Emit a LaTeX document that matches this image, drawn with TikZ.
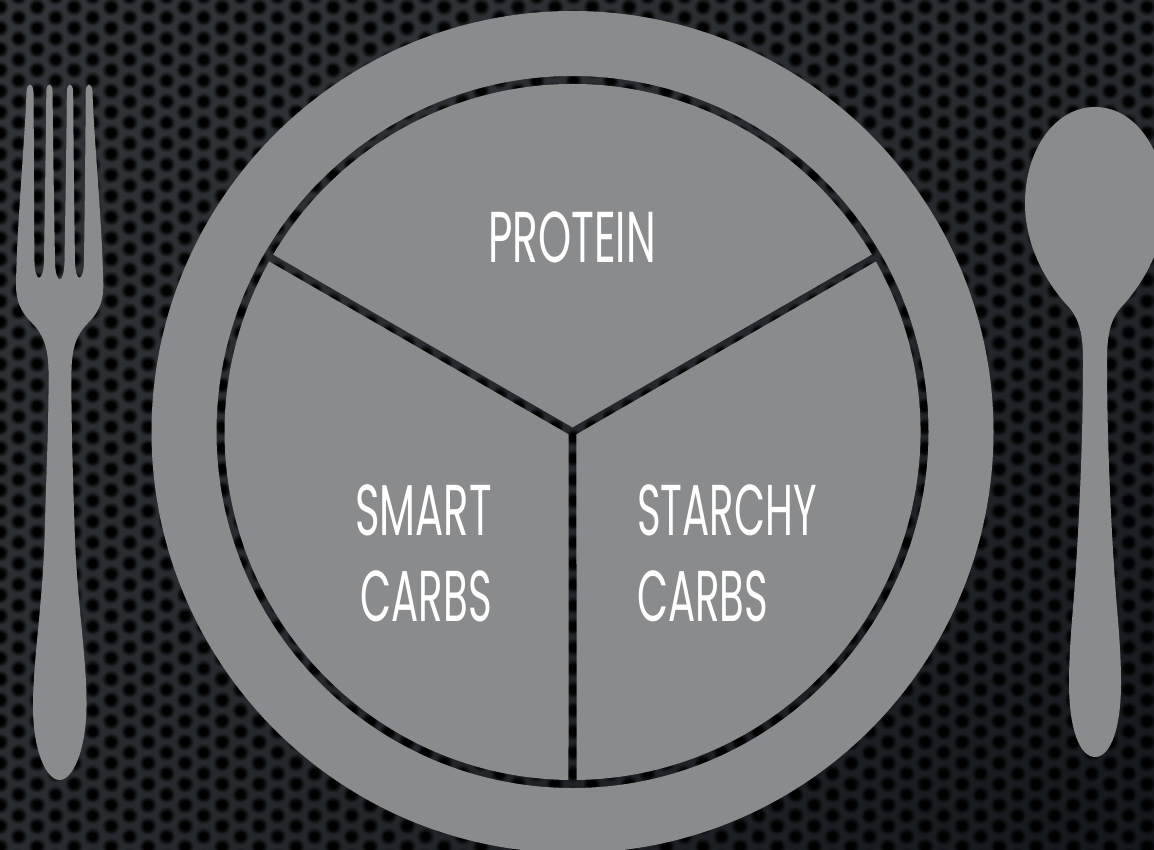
\documentclass[tikz,border=0pt]{standalone}
\usepackage{fontspec}
\usepackage{graphicx}
\usetikzlibrary{calc,shadings,patterns}
\newfontfamily\labelfont[FakeStretch=0.58]{Poppins}
\definecolor{platecol}{HTML}{8A8B8D}
\definecolor{bgA}{HTML}{303438}
\definecolor{bgB}{HTML}{282C30}
\definecolor{bgC}{HTML}{14181D}
\newcommand{\mkholes}[2]{%
  \pgfdeclarepatternformonly{#1}{\pgfpointorigin}{\pgfqpoint{37.3pt}{21.34pt}}{\pgfqpoint{37.3pt}{21.34pt}}{%
    \foreach \ii in {-1,0,1}{\foreach \jj in {-1,0,1}{%
      \pgfpathcircle{\pgfpoint{20pt+37.3pt*\ii}{14.74pt+21.34pt*\jj}}{#2}%
      \pgfpathcircle{\pgfpoint{38.65pt+37.3pt*\ii}{25.41pt+21.34pt*\jj}}{#2}%
    }}%
    \pgfusepath{fill}%
  }%
}
\mkholes{holesA}{9pt}
\mkholes{holesB}{8pt}
\mkholes{holesC}{7pt}
\mkholes{holesD}{6pt}
\mkholes{holesE}{5pt}
\mkholes{holesF}{4pt}
\tikzset{
  plate/.style={fill=platecol},
  perf/.style={pattern=#1,pattern color=black},
  foodlabel/.style={text=white,inner sep=0pt,font=\labelfont\fontsize{72}{86}\selectfont}
}
\begin{document}
\begin{tikzpicture}[x=1pt,y=1pt,yscale=-1]
\useasboundingbox (0,0) rectangle (1154,850);
\clip (0,0) rectangle (1154,850);
% perforated background
\shade[upper left=bgA,upper right=bgB,lower left=bgB,lower right=bgC] (0,0) rectangle (1154,850);
\path[perf=holesA,fill opacity=0.1] (0,0) rectangle (1154,850);
\path[perf=holesB,fill opacity=0.18] (0,0) rectangle (1154,850);
\path[perf=holesC,fill opacity=0.28] (0,0) rectangle (1154,850);
\path[perf=holesD,fill opacity=0.4] (0,0) rectangle (1154,850);
\path[perf=holesE,fill opacity=0.6] (0,0) rectangle (1154,850);
\path[perf=holesF] (0,0) rectangle (1154,850);
% plate rim
\coordinate (c) at (572.5,432);
\fill[plate,even odd rule] (c) circle (421pt) (c) circle (356pt);
% three sections, the gaps between them let the background show
\fill[plate] ($(c)+(270:4.6)$) -- ($(c)+(210.66:348)$) arc[start angle=210.66,end angle=329.34,radius=348pt] -- cycle;
\fill[plate] ($(c)+(30:4.6)$) -- ($(c)+(330.66:348)$) arc[start angle=330.66,end angle=449.34,radius=348pt] -- cycle;
\fill[plate] ($(c)+(150:4.6)$) -- ($(c)+(90.66:348)$) arc[start angle=90.66,end angle=209.34,radius=348pt] -- cycle;
% fork
\fill[plate]
 (16,285) .. controls (17,220) and (25,140) .. (26.5,92) .. controls (27,82) and (33,82) .. (33.5,92)
 .. controls (34,150) and (34,230) .. (34.5,262) .. controls (35,283) and (43,283) .. (44,262)
 .. controls (44.5,220) and (46,140) .. (46.3,92) .. controls (46.5,82) and (52.3,82) .. (52.6,92)
 .. controls (53,150) and (54.5,230) .. (55,262) .. controls (55.5,285) and (64,285) .. (64.5,262)
 .. controls (65,230) and (66.5,150) .. (66.8,92) .. controls (67,82) and (73,82) .. (73.2,92)
 .. controls (73.5,150) and (74.5,230) .. (75,262) .. controls (75.5,283) and (83.5,283) .. (84,262)
 .. controls (84.5,220) and (85.5,150) .. (85.7,92) .. controls (86,82) and (92,82) .. (92.5,92)
 .. controls (94,140) and (102,220) .. (103.3,285)
 .. controls (103.5,305) and (96,315) .. (88,323)
 .. controls (78,333) and (72,345) .. (71.5,370)
 .. controls (71,420) and (73,480) .. (75,540)
 .. controls (78,610) and (87,660) .. (86.5,707)
 .. controls (86,750) and (73,780) .. (59.5,780)
 .. controls (46,780) and (33,750) .. (33,707)
 .. controls (33,660) and (42,610) .. (44.5,540)
 .. controls (46,480) and (49,420) .. (48.5,370)
 .. controls (48,345) and (42,333) .. (32,323)
 .. controls (24,315) and (16,305) .. (16,285) -- cycle;
% spoon
\fill[plate]
 (1095,107) .. controls (1055,107) and (1025,150) .. (1025,203)
 .. controls (1025,245) and (1045,280) .. (1065,303)
 .. controls (1078,316) and (1083,330) .. (1083,360)
 .. controls (1083,450) and (1078,550) .. (1072,620)
 .. controls (1070,645) and (1069,665) .. (1069,683)
 .. controls (1069,730) and (1080,757) .. (1095,757)
 .. controls (1110,757) and (1121,730) .. (1121,683)
 .. controls (1121,665) and (1120,645) .. (1118,620)
 .. controls (1112,550) and (1107,450) .. (1107,360)
 .. controls (1107,330) and (1112,316) .. (1125,303)
 .. controls (1145,280) and (1165,245) .. (1165,203)
 .. controls (1165,150) and (1135,107) .. (1095,107) -- cycle;
% labels
\node[foodlabel,anchor=base] (protein) at (572,263) {\scalebox{1.01}[1]{PROTEIN}};
\node[foodlabel,anchor=base east] (smart1) at (492,535) {\scalebox{1}[1]{SMART}};
\node[foodlabel,anchor=base east] (smart2) at (492,621) {\scalebox{.965}[1]{CARBS}};
\node[foodlabel,anchor=base west] (starchy1) at (637,535) {\scalebox{.965}[1]{STARCHY}};
\node[foodlabel,anchor=base west] (starchy2) at (637,621) {\scalebox{.965}[1]{CARBS}};
\end{tikzpicture}
\end{document}
